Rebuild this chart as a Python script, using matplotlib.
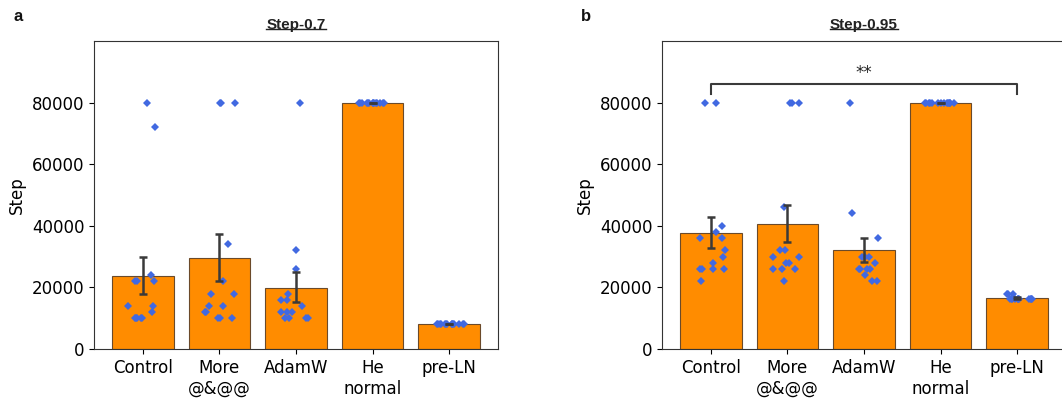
import numpy as np
import matplotlib
matplotlib.use("Agg")
import matplotlib.pyplot as plt
from matplotlib.lines import Line2D

categories = ["Control", "More\n@&@@", "AdamW", "He\nnormal", "pre-LN"]

# Panel a: Step-0.7 (individual runs)
a_control = [80000, 72000, 24000, 22000, 22000, 22000, 14000, 14000, 12000, 10000, 10000, 10000, 10000, 10000]
a_more = [80000, 80000, 80000, 34000, 22000, 18000, 18000, 14000, 14000, 12000, 12000, 10000, 10000, 10000]
a_adamw = [80000, 32000, 26000, 18000, 16000, 16000, 14000, 12000, 12000, 12000, 10000, 10000, 10000, 10000]
a_he = [80000] * 14
a_preln = [8000] * 14
a_ci_low = [17800, 22100, 15200, 80000, 8000]
a_ci_high = [29900, 37200, 25100, 80000, 8000]

# Panel b: Step-0.95 (individual runs)
b_control = [80000, 80000, 40000, 38000, 36000, 36000, 32000, 30000, 28000, 26000, 26000, 26000, 26000, 22000]
b_more = [80000, 80000, 80000, 46000, 32000, 32000, 30000, 30000, 28000, 28000, 26000, 26000, 26000, 22000]
b_adamw = [80000, 44000, 36000, 30000, 30000, 30000, 28000, 26000, 26000, 26000, 26000, 24000, 22000, 22000]
b_he = [80000] * 14
b_preln = [18000, 18000, 18000] + [16200] * 11
b_ci_low = [32800, 34600, 28100, 80000, 16300]
b_ci_high = [42900, 46600, 36200, 80000, 16900]

titles = ["Step-0.7", "Step-0.95"]
panel_letters = ["a", "b"]
yticks = [0, 20000, 40000, 60000, 80000]

BAR = "#FF8C00"
DOT = "#4169E1"
ERR = "#3a3a3a"

fig = plt.figure(figsize=(10.62, 4.03), dpi=100)
W, H = 1062.0, 403.0
ax_a = fig.add_axes([94 / W, 54 / H, 404 / W, 308 / H])
ax_b = fig.add_axes([662 / W, 54 / H, 404 / W, 308 / H])

rng = np.random.default_rng(7)

panels = [
    (ax_a, [a_control, a_more, a_adamw, a_he, a_preln], a_ci_low, a_ci_high),
    (ax_b, [b_control, b_more, b_adamw, b_he, b_preln], b_ci_low, b_ci_high),
]

for k, (ax, groups, lo, hi) in enumerate(panels):
    means = [np.mean(g) for g in groups]
    x = np.arange(len(categories))
    ax.bar(x, means, width=0.8, color=BAR, edgecolor="#6b4a2a", linewidth=0.8, zorder=2)
    for i, g in enumerate(groups):
        jit = rng.uniform(-0.2, 0.2, len(g))
        ax.plot(i + jit, g, linestyle="none", marker="D", markersize=3.6,
                color=DOT, markeredgewidth=0, zorder=3)
    means = np.array(means)
    yerr = np.vstack([means - np.array(lo), np.array(hi) - means])
    yerr = np.clip(yerr, 0, None)
    ax.errorbar(x, means, yerr=yerr, fmt="none", ecolor=ERR, elinewidth=1.8,
                capsize=3.2, capthick=1.8, zorder=4)
    ax.set_xlim(-0.64, 4.64)
    ax.set_ylim(0, 100000)
    ax.set_yticks(yticks)
    ax.set_xticks(x)
    ax.set_xticklabels(categories, fontsize=12)
    ax.tick_params(axis="y", labelsize=12)
    ax.set_ylabel("Step", fontsize=12)
    for s in ax.spines.values():
        s.set_color("#333333")
    t = ax.set_title(titles[k], fontsize=11, fontweight="bold",
                     family=["Liberation Sans", "DejaVu Sans"], color="#222222", pad=9)

# significance bracket on panel b
y_br = 86000
y_tip = 82800
ax_b.plot([0, 0, 4, 4], [y_tip, y_br, y_br, y_tip], color="#3a3a3a", linewidth=1.5, zorder=5)
ax_b.text(2, y_br + 800, "**", ha="center", va="bottom", fontsize=12, color="#222222")

# panel letters
fig.text(13 / W, 1 - 21 / H, panel_letters[0], fontsize=12, fontweight="bold",
         family=["Liberation Sans", "DejaVu Sans"], color="#111111")
fig.text(581 / W, 1 - 21 / H, panel_letters[1], fontsize=12, fontweight="bold",
         family=["Liberation Sans", "DejaVu Sans"], color="#111111")

# underline titles
fig.canvas.draw()
renderer = fig.canvas.get_renderer()
for ax in (ax_a, ax_b):
    bb = ax.title.get_window_extent(renderer)
    x0, x1 = bb.x0 / W, bb.x1 / W
    yl = (bb.y0 + 2.5) / H
    fig.add_artist(Line2D([x0, x1], [yl, yl], transform=fig.transFigure,
                          color="#222222", linewidth=1.0))

fig.savefig("out.png", dpi=100)
